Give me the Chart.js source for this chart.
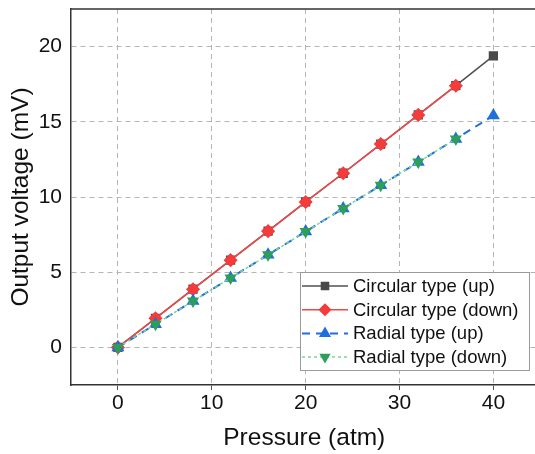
<!DOCTYPE html>
<html>
<head>
<meta charset="utf-8">
<script src="https://cdn.jsdelivr.net/npm/chart.js@4/dist/chart.umd.min.js"></script>
<style>
  html, body { margin: 0; padding: 0; background: #fff; overflow: hidden; }
  #wrap { width: 535px; height: 454px; overflow: hidden; }
</style>
</head>
<body>
<div id="wrap"><canvas id="myChart" width="545" height="454"></canvas></div>
<script>
// datos
var pressure = [0, 4, 8, 12, 16, 20, 24, 28, 32, 36, 40];
var circularUp = [0, 1.93, 3.87, 5.8, 7.73, 9.67, 11.58, 13.52, 15.46, 17.4, 19.38];
var circularDown = [0, 1.93, 3.87, 5.8, 7.73, 9.67, 11.58, 13.52, 15.46, 17.4];
var radialUp = [0, 1.54, 3.08, 4.62, 6.16, 7.7, 9.24, 10.78, 12.32, 13.86, 15.42];
var radialDown = [0, 1.54, 3.08, 4.62, 6.16, 7.7, 9.24, 10.78, 12.32, 13.86];
var xTicks = [0, 10, 20, 30, 40];
var yTicks = [0, 5, 10, 15, 20];
var seriesNames = ['Circular type (up)', 'Circular type (down)', 'Radial type (up)', 'Radial type (down)'];

function pares(xs, ys) {
	return ys.map(function (y, i) { return { x: xs[i], y: y }; });
}

var FONT = "'Liberation Sans', Arial, sans-serif";

// leyenda dentro del area de la grafica
var leyenda = {
	id: 'leyenda',
	afterDraw: function (chart) {
		var ctx = chart.ctx;
		var x0 = 300, y0 = 272, w = 229, h = 98;
		ctx.save();
		ctx.fillStyle = '#fff';
		ctx.fillRect(x0, y0, w, h);
		ctx.strokeStyle = '#9a9a9a';
		ctx.lineWidth = 1;
		ctx.strokeRect(x0 + 0.5, y0 + 0.5, w, h);
		chart.data.datasets.forEach(function (ds, i) {
			var cy = 286 + i * 23.7;
			ctx.save();
			ctx.strokeStyle = ds.borderColor;
			ctx.lineWidth = ds.borderWidth;
			ctx.setLineDash(ds.borderDash || []);
			ctx.beginPath();
			ctx.moveTo(302, cy);
			ctx.lineTo(348, cy);
			ctx.stroke();
			ctx.setLineDash([]);
			ctx.fillStyle = ds.pointBackgroundColor;
			ctx.strokeStyle = ds.pointBorderColor;
			Chart.helpers.drawPoint(ctx, {
				pointStyle: ds.pointStyle,
				rotation: ds.pointRotation || 0,
				radius: ds.pointRadius - 0.5,
				borderWidth: 1
			}, 325, cy);
			ctx.restore();
			ctx.fillStyle = '#111';
			ctx.font = '18.5px ' + FONT;
			ctx.textBaseline = 'middle';
			ctx.textAlign = 'left';
			ctx.fillText(seriesNames[i], 353, cy + 1);
		});
		ctx.restore();
	}
};

// borde superior del marco
var marcoSuperior = {
	id: 'marcoSuperior',
	afterDatasetsDraw: function (chart) {
		var a = chart.chartArea, ctx = chart.ctx;
		ctx.save();
		ctx.strokeStyle = '#333';
		ctx.lineWidth = 1.5;
		ctx.beginPath();
		ctx.moveTo(a.left, a.top);
		ctx.lineTo(a.right, a.top);
		ctx.stroke();
		ctx.restore();
	}
};

var grafica = new Chart(document.getElementById('myChart'), {
	type: 'line',
	data: {
		datasets: [
			//SERIE 1
			{
				label: seriesNames[0],
				data: pares(pressure, circularUp),
				borderColor: '#505050',
				borderWidth: 1.5,
				pointStyle: 'rect',
				pointRadius: 5.5,
				pointBackgroundColor: '#4a4a4a',
				pointBorderColor: '#4a4a4a',
				order: 4
			},
			//SERIE 2
			{
				label: seriesNames[1],
				data: pares(pressure, circularDown),
				borderColor: '#f04848',
				borderWidth: 1.5,
				pointStyle: 'rectRot',
				pointRadius: 6,
				pointBackgroundColor: '#f43c3c',
				pointBorderColor: '#f43c3c',
				order: 3
			},
			//SERIE 3
			{
				label: seriesNames[2],
				data: pares(pressure, radialUp),
				borderColor: '#1f6fdc',
				borderWidth: 2,
				borderDash: [8, 6],
				pointStyle: 'triangle',
				pointRadius: 5.5,
				pointBackgroundColor: '#1f6fdc',
				pointBorderColor: '#1f6fdc',
				order: 2
			},
			//SERIE 4
			{
				label: seriesNames[3],
				data: pares(pressure, radialDown),
				borderColor: '#7ed49a',
				borderWidth: 1.5,
				borderDash: [3, 3],
				pointStyle: 'triangle',
				pointRotation: 180,
				pointRadius: 5.5,
				pointBackgroundColor: '#2e9f58',
				pointBorderColor: '#2e9f58',
				order: 1
			}
		]
	},
	options: {
		responsive: false,
		animation: false,
		layout: { padding: { top: 9, right: 0, left: 0, bottom: 0 } },
		plugins: { legend: { display: false }, tooltip: { enabled: false } },
		elements: { line: { tension: 0, fill: false } },
		scales: {
			x: {
				type: 'linear',
				min: -5,
				max: 44.7,
				afterFit: function (s) { s.height = 69; s.paddingLeft = 0; s.paddingRight = 0; },
				afterBuildTicks: function (s) { s.ticks = xTicks.map(function (v) { return { value: v }; }); },
				ticks: { stepSize: 10, includeBounds: false, color: '#111', padding: 1, font: { family: FONT, size: 21 } },
				grid: { color: '#b4b4b4', lineWidth: 1, tickLength: 5, tickColor: '#555', tickWidth: 1 },
				border: { display: true, color: '#333', width: 1.5, dash: [5, 4] },
				title: { display: true, text: 'Pressure (atm)', color: '#111', font: { family: FONT, size: 24.5 }, padding: { top: 0, bottom: 1 } }
			},
			y: {
				type: 'linear',
				min: -2.5,
				max: 22.5,
				afterFit: function (s) { s.width = 71; s.paddingTop = 0; s.paddingBottom = 0; },
				afterBuildTicks: function (s) { s.ticks = yTicks.map(function (v) { return { value: v }; }); },
				ticks: { stepSize: 5, includeBounds: false, color: '#111', padding: 9, font: { family: FONT, size: 21 } },
				grid: { color: '#b4b4b4', lineWidth: 1, drawTicks: false },
				border: { display: true, color: '#333', width: 1.5, dash: [5, 4] },
				title: { display: true, text: 'Output voltage (mV)', color: '#111', font: { family: FONT, size: 24.5 }, padding: { top: 7, bottom: 0 } }
			}
		}
	},
	plugins: [marcoSuperior, leyenda]
});
</script>
</body>
</html>
